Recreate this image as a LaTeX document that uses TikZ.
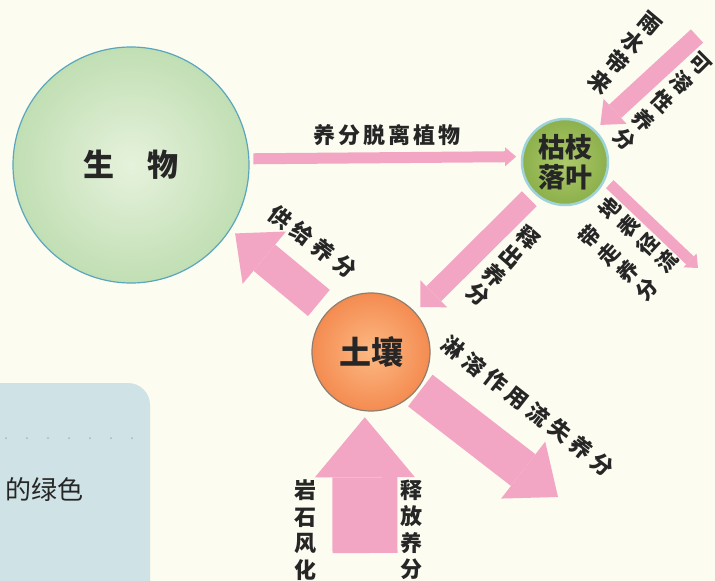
\documentclass[tikz,border=0pt]{standalone}
\usepackage{fontspec}
\setmainfont{Noto Sans CJK SC}
\usetikzlibrary{arrows.meta}
\definecolor{bg}{HTML}{FCFCF0}
\definecolor{pk}{HTML}{F3A6C3}
\definecolor{txt}{HTML}{262626}
\definecolor{bioin}{HTML}{E6F2DC}
\definecolor{bioout}{HTML}{9CCB8B}
\definecolor{bioedge}{HTML}{5AA6BD}
\definecolor{litin}{HTML}{ADC96A}
\definecolor{litout}{HTML}{6B972C}
\definecolor{litedge}{HTML}{9ED3DA}
\definecolor{soilin}{HTML}{FCB983}
\definecolor{soilout}{HTML}{EC5E1F}
\definecolor{soiledge}{HTML}{8F7E70}
\definecolor{boxblue}{HTML}{CFE3E6}
\pgfdeclareradialshading{bioshade}{\pgfpoint{0bp}{0bp}}{color(0bp)=(bioin); color(50bp)=(bioout); color(60bp)=(bioout)}
\pgfdeclareradialshading{litshade}{\pgfpoint{0bp}{0bp}}{color(0bp)=(litin); color(50bp)=(litout); color(60bp)=(litout)}
\pgfdeclareradialshading{soilshade}{\pgfpoint{0bp}{0bp}}{color(0bp)=(soilin); color(50bp)=(soilout); color(60bp)=(soilout)}
\newcommand\gpa{\hspace{3pt}}
\newcommand\gpb{\hspace{5pt}}
\begin{document}
\begin{tikzpicture}[x=1pt,y=-1pt,
  ball/.style={circle, inner sep=0pt, text=txt, align=center},
  lab/.style={font=\fontsize{22}{26.5}\selectfont\bfseries, text=txt, inner sep=0pt, align=center},
  thinarr/.style={draw=pk, line width=11pt, -{Triangle[width=19pt,length=11pt,line width=0pt]}},
  fatarr/.style n args={3}{draw=pk, line width=#1, -{Triangle[width=#2,length=#3,line width=0pt]}}
]
\fill[bg] (0,0) rectangle (715,581);
\useasboundingbox (0,0) rectangle (715,581);

% side panel
\begin{scope}
\clip (0,0) rectangle (715,581);
\fill[boxblue, rounded corners=22pt] (-40,383) rectangle (150,640);
\end{scope}
\draw[gray!60, line width=2pt, line cap=round, dash pattern=on 0pt off 21pt] (6,438) -- (148,438);
\node[anchor=east, font=\fontsize{26}{26}\selectfont, text=txt, inner sep=0pt] (green) at (84,490) {的绿色};

% main nodes
\node[ball, minimum size=236pt, shading=bioshade, draw=bioedge, line width=1.2pt,
      font=\fontsize{31}{31}\selectfont\bfseries] (bio) at (131,165) {生\hspace{33pt}物};
\node[ball, minimum size=86pt, shading=litshade, draw=litedge, line width=2.5pt,
      font=\fontsize{27}{30}\selectfont\bfseries] (litter) at (565,162) {枯枝\\落叶};
\node[ball, minimum size=118pt, shading=soilshade, draw=soiledge, line width=1.2pt,
      font=\fontsize{32}{32}\selectfont\bfseries] (soil) at (371,352) {土壤};

% free ends
\coordinate (rainS) at (697,36);
\coordinate (runoffE) at (698,268);
\coordinate (leachE) at (558,497);
\coordinate (rockS) at (365,553);

% connectors
\draw[thinarr, shorten <=4pt, shorten >=5pt] (bio.3) -- (litter.173);
\draw[fatarr={18pt}{34pt}{20pt}, shorten >=7pt] (rainS) -- (litter.47);
\draw[thinarr, shorten <=6pt] (litter.-24) -- (runoffE);
\draw[fatarr={21pt}{38pt}{19pt}, shorten <=7pt, shorten >=7pt] (litter.226) -- (soil.42);
\draw[fatarr={34pt}{68pt}{38pt}, shorten <=12pt, shorten >=6pt] (soil.136) -- (bio.-33);
\draw[fatarr={40pt}{72pt}{44pt}, shorten <=3pt] (soil.-38) -- (leachE);
\draw[fatarr={65pt}{100pt}{60pt}, shorten >=6pt] (rockS) -- (soil.-96);

% labels
\node[lab] (l1) at (387,135) {养\gpa 分\gpa 脱\gpa 离\gpa 植\gpa 物};
\node[lab, rotate=-40, font=\fontsize{22}{26}\selectfont\bfseries] (l2) at (625,53) {雨\\水\\带\\来};
\node[lab, rotate=-45, font=\fontsize{21}{27}\selectfont\bfseries] (l3) at (662,102) {可\\溶\\性\\养\\分};
\node[lab, rotate=47, font=\fontsize{21}{26}\selectfont\bfseries] (l4) at (638,235) {地\\表\\径\\流};
\node[lab, rotate=47, font=\fontsize{21}{26}\selectfont\bfseries] (l5) at (618,263) {带\\走\\养\\分};
\node[lab, rotate=-41, font=\fontsize{22}{25.5}\selectfont\bfseries] (l6) at (503,266) {释\\出\\养\\分};
\node[lab, rotate=-37] (l7) at (313,242) {供\gpb 给\gpb 养\gpb 分};
\node[lab, rotate=-38] (l8) at (528,406) {淋\gpb 溶\gpb 作\gpb 用\gpb 流\gpb 失\gpb 养\gpb 分};
\node[lab] (l9) at (305,530) {岩\\石\\风\\化};
\node[lab] (l10) at (411,530) {释\\放\\养\\分};
\end{tikzpicture}
\end{document}
